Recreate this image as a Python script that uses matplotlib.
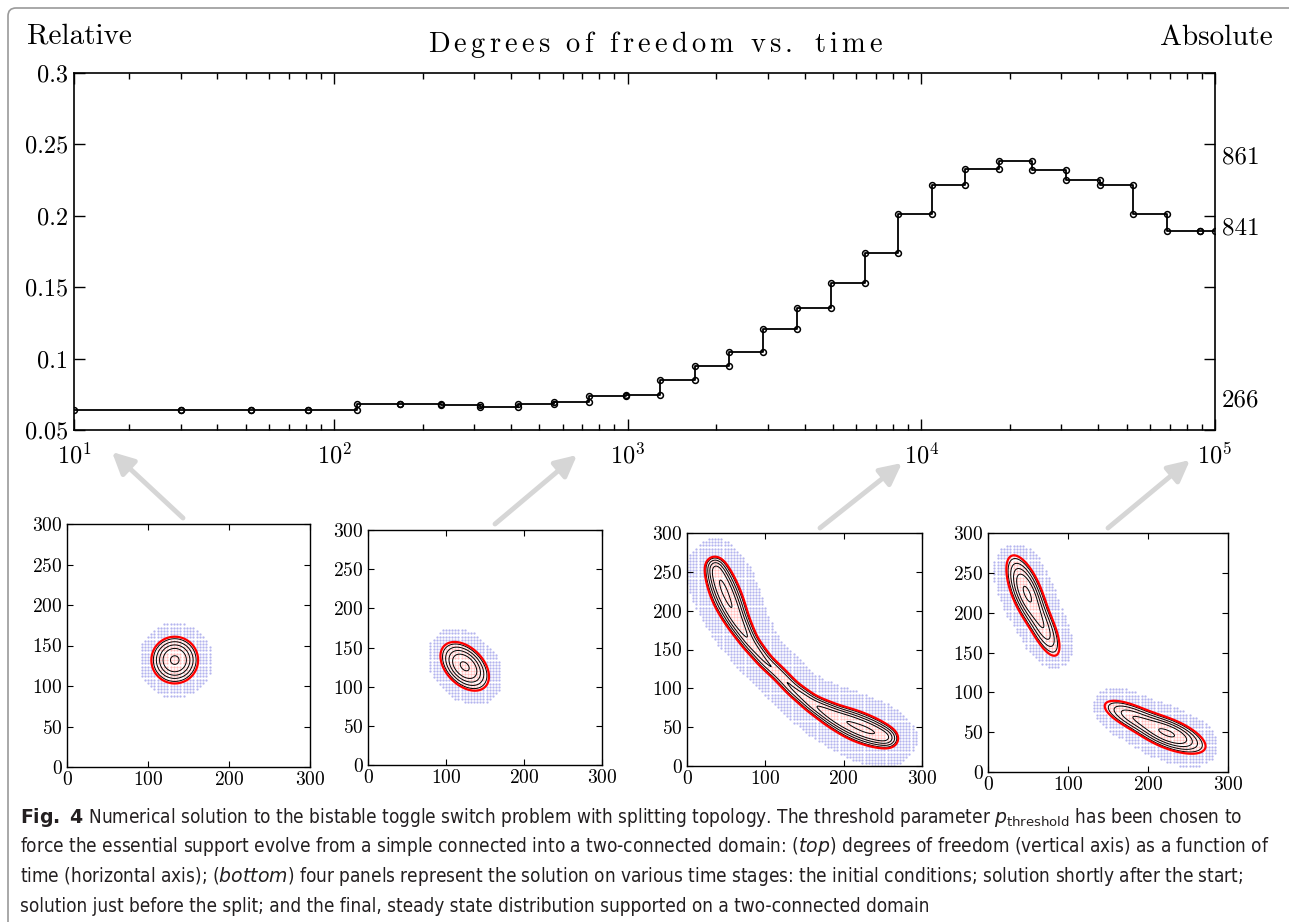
import matplotlib
matplotlib.use("Agg")
import matplotlib.pyplot as plt
import numpy as np
from matplotlib.patches import FancyBboxPatch, FancyArrowPatch
from matplotlib.ticker import LogLocator, NullFormatter

plt.rcParams['font.family'] = ['cmr10', 'DejaVu Serif']
plt.rcParams['mathtext.fontset'] = 'cm'
plt.rcParams['axes.formatter.use_mathtext'] = True
plt.rcParams['axes.unicode_minus'] = False
plt.rcParams['mathtext.rm'] = 'DejaVu Sans'
plt.rcParams['mathtext.it'] = 'DejaVu Sans:italic'
plt.rcParams['mathtext.bf'] = 'DejaVu Sans:bold'

# top: relative degrees of freedom, one level per time step (value from that time on)
times = [13.0, 30.1, 52.2, 81.5, 119.8, 167.8, 231.4, 314.1, 423.1, 561, 738.3, 986.7,
         1288, 1690, 2211, 2891, 3783, 4914, 6431, 8356, 10865, 14121, 18361, 23857,
         31117, 40444, 52539, 68531, 88800]
t_end = 1e5
rel_dof = [0.0638, 0.0638, 0.0638, 0.0638, 0.0680, 0.0680, 0.0678, 0.0662, 0.0685, 0.0693,
           0.0740, 0.0742, 0.0850, 0.0948, 0.1048, 0.1207, 0.1352, 0.1527, 0.1742, 0.2010,
           0.2216, 0.2328, 0.2384, 0.2323, 0.2251, 0.2216, 0.2010, 0.1896, 0.1896]
y_ticks = [0.05, 0.1, 0.15, 0.2, 0.25, 0.3]
y_ticklabels = ['0.05', '0.1', '0.15', '0.2', '0.25', '0.3']
x_ticklabels = ['$10^{1}$', '$10^{2}$', '$10^{3}$', '$10^{4}$', '$10^{5}$']
abs_labels = ['861', '841', '266']
abs_label_y = [0.241, 0.191, 0.071]

# bottom panels 1, 2, 4: gaussian pieces (cx, cy, angle, sigma along, sigma across, weight)
parts_p1 = [(133, 132, 0, 14, 14, 1.0)]
parts_p2 = [(124, 126, -45, 18, 11.5, 1.0)]
parts_p4 = [(48, 226, -68, 24, 9, 1.0), (70, 180, -66, 22, 8, 0.5),
            (226, 48, -22, 24, 9, 1.0), (180, 70, -24, 22, 8, 0.5)]
# panel 3: ridge of the banana shape (x, y, sigma across, weight)
ridge_p3 = [(34, 262, 7, 0.55), (42, 240, 9, 0.95), (52, 215, 9.5, 1.0), (64, 188, 8, 0.75),
            (80, 160, 6.5, 0.5), (100, 135, 6, 0.4), (118, 118, 6, 0.38), (135, 100, 6, 0.4),
            (160, 80, 6.5, 0.5), (188, 64, 8, 0.75), (215, 52, 9.5, 1.0), (240, 42, 9, 0.95),
            (262, 34, 7, 0.55)]
support_pad = [18, 18, 25, 17]
red_level = 0.12
black_levels = [0.17, 0.27, 0.41, 0.59, 0.93]

W, H = 1289, 922


def box(l, t, r, b):
    return [l / W, 1 - b / H, (r - l) / W, (b - t) / H]


def blobs(parts, X, Y):
    p = np.zeros_like(X, dtype=float)
    for cx, cy, ang, s1, s2, w in parts:
        a = np.deg2rad(ang)
        u = (X - cx) * np.cos(a) + (Y - cy) * np.sin(a)
        v = -(X - cx) * np.sin(a) + (Y - cy) * np.cos(a)
        p += w * np.exp(-0.5 * ((u / s1) ** 2 + (v / s2) ** 2))
    return p


def ridge(pts, X, Y):
    pts = np.array(pts, dtype=float)
    seg = np.hypot(np.diff(pts[:, 0]), np.diff(pts[:, 1]))
    arc = np.concatenate([[0], np.cumsum(seg)])
    s = np.linspace(0, arc[-1], 500)
    ds = s[1] - s[0]
    p = np.zeros_like(X, dtype=float)
    for sk in s:
        x, y, sig, w = (np.interp(sk, arc, pts[:, j]) for j in range(4))
        p += w * ds / (np.sqrt(2 * np.pi) * sig) * np.exp(-((X - x) ** 2 + (Y - y) ** 2) / (2 * sig ** 2))
    return p


panel_fields = [lambda X, Y: blobs(parts_p1, X, Y), lambda X, Y: blobs(parts_p2, X, Y),
                lambda X, Y: ridge(ridge_p3, X, Y), lambda X, Y: blobs(parts_p4, X, Y)]

fig = plt.figure(figsize=(W / 100, H / 100), dpi=100)

# frame around the figure
fig.add_artist(FancyBboxPatch((0.08, -0.3), 13.3, 9.44, boxstyle="round,pad=0,rounding_size=0.08",
                              transform=fig.dpi_scale_trans, fc='none', ec='#9a9a9a', lw=1.2))

# ---- top chart
ax = fig.add_axes(box(74, 73, 1215, 430))
xs = times + [t_end]
ax.step(xs, rel_dof + [rel_dof[-1]], where='post', color='k', lw=1.3, zorder=2)
seg_x = [x for i in range(len(times)) for x in (xs[i], xs[i + 1])]
seg_y = [y for y in rel_dof for _ in (0, 1)]
ax.plot(seg_x, seg_y, 'o', ms=4.2, mfc='none', mec='k', mew=1.1, zorder=3)
ax.set_xscale('log')
ax.set_xlim(times[0], t_end)
ax.set_ylim(0.05, 0.3)
ax.set_xticks([times[0], 1e2, 1e3, 1e4, 1e5])
ax.set_xticklabels(x_ticklabels)
ax.xaxis.set_minor_locator(LogLocator(base=10, subs=np.arange(2, 10)))
ax.xaxis.set_minor_formatter(NullFormatter())
ax.set_yticks(y_ticks)
ax.set_yticklabels(y_ticklabels)
ax.tick_params(which='both', direction='in', top=True, right=True, width=1)
ax.tick_params(which='major', length=8, labelsize=17.5)
ax.tick_params(which='minor', length=4.5)
ax.tick_params(axis='x', pad=9)
ax.tick_params(axis='y', pad=4)
for s in ax.spines.values():
    s.set_linewidth(1.2)
for lab, yv in zip(abs_labels, abs_label_y):
    ax.annotate(lab, xy=(1, yv), xycoords=('axes fraction', 'data'), xytext=(5, 0),
                textcoords='offset points', va='center', ha='left', fontsize=18)

fig.text(27 / W, 1 - 36 / H, 'Relative', fontsize=21, va='center', ha='left')
fig.text(1273 / W, 1 - 38 / H, 'Absolute', fontsize=21, va='center', ha='right')
title = 'Degrees of freedom vs. time'
spaced = r'\,'.join(r'\ ' if ch == ' ' else ch for ch in title)
fig.text(656 / W, 1 - 45 / H, r'$\mathrm{' + spaced + '}$', fontsize=20.5, va='center', ha='center')

# ---- bottom panels
panel_boxes = [(67, 524, 310, 767), (368, 530, 602, 765), (687, 533, 922, 766), (988, 533, 1228, 772)]
xf = np.linspace(0, 300, 301)
XF, YF = np.meshgrid(xf, xf)
gc = np.arange(0, 301, 4)
GX, GY = np.meshgrid(gc, gc)
for field, pad, pb in zip(panel_fields, support_pad, panel_boxes):
    pax = fig.add_axes(box(*pb))
    pf = field(XF, YF)
    pmax = pf.max()
    pf = pf / pmax
    pc = field(GX, GY) / pmax
    inside = pc >= red_level
    ins = np.column_stack([GX[inside], GY[inside]])
    allp = np.column_stack([GX.ravel(), GY.ravel()])
    d = np.sqrt(((allp[:, None, :] - ins[None, :, :]) ** 2).sum(-1)).min(axis=1).reshape(GX.shape)
    lav = (d <= pad) & ~inside
    pax.scatter(GX[lav], GY[lav], s=2.6, c='#b4b4ee', lw=0, zorder=1)
    pax.scatter(GX[inside], GY[inside], s=2.6, c='#ffb8b8', lw=0, zorder=1)
    pax.contour(XF, YF, pf, levels=black_levels, colors='k', linewidths=0.7, zorder=2)
    pax.contour(XF, YF, pf, levels=[red_level], colors='red', linewidths=1.6, zorder=3)
    pax.set_xlim(0, 300)
    pax.set_ylim(0, 300)
    pax.set_xticks([0, 100, 200, 300])
    pax.set_yticks(range(0, 301, 50))
    pax.tick_params(direction='in', top=True, right=True, length=4, labelsize=14, pad=3)
    for s in pax.spines.values():
        s.set_linewidth(1.0)

# ---- grey arrows from panels to their times
arrows = [((183, 518), (112, 452)), ((495, 524), (577, 455)),
          ((820, 528), (902, 463)), ((1108, 528), (1190, 460))]
for (tx, ty), (hx, hy) in arrows:
    fig.add_artist(FancyArrowPatch(
        (tx / W, 1 - ty / H), (hx / W, 1 - hy / H), transform=fig.transFigure,
        arrowstyle='-|>,head_length=1.3,head_width=0.65', mutation_scale=10,
        color='#d6d6d6', lw=3.5, shrinkA=0, shrinkB=0))

# ---- caption
cap_lines = [
    r"$\mathbf{Fig.\ 4}$ Numerical solution to the bistable toggle switch problem with splitting topology. "
    r"The threshold parameter $p_{\mathrm{threshold}}$ has been chosen to",
    r"force the essential support evolve from a simple connected into a two-connected domain: "
    r"($\mathit{top}$) degrees of freedom (vertical axis) as a function of",
    r"time (horizontal axis); ($\mathit{bottom}$) four panels represent the solution on various time stages: "
    r"the initial conditions; solution shortly after the start;",
    "solution just before the split; and the final, steady state distribution supported on a two-connected domain",
]
for i, line in enumerate(cap_lines):
    fig.text(20 / W, 1 - (817 + 29.7 * i) / H, line, fontsize=13.6, family='DejaVu Sans',
             fontstretch='condensed', math_fontfamily='custom', color='#231f20',
             va='center', ha='left')

fig.savefig('out.png', dpi=100)
